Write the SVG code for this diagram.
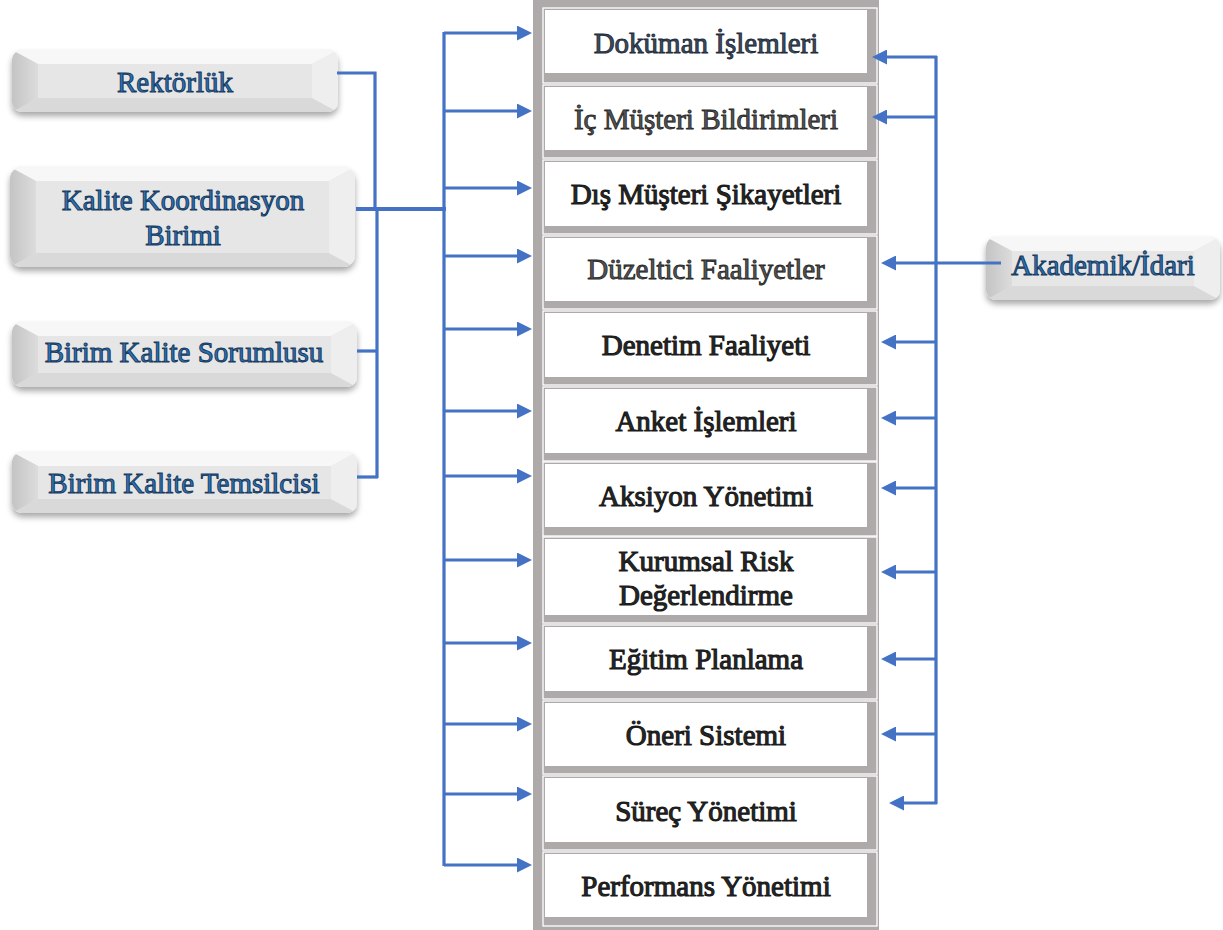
<svg xmlns="http://www.w3.org/2000/svg" width="1223" height="930" viewBox="0 0 1223 930">
<style>
.cell{font-family:"Liberation Serif","Times New Roman",serif;font-size:29px;text-anchor:middle;fill:#262626;stroke:#1a1a1a;stroke-width:1.1px}
.cell.slate{fill:#3d4b5c;stroke:#1e2b3a;stroke-width:0.9px}
.cell.gray{fill:#555555;stroke:#2a2a2a;stroke-width:0.9px}
.ntx{font-family:"Liberation Serif","Times New Roman",serif;font-size:29px;text-anchor:middle;fill:#2e74b5;stroke:#173a60;stroke-width:1px}
.box{fill:#e6e6e6}
.bl{fill:url(#gLeft)}
.br{fill:#eeeeee}
.bt{fill:#f7f7f7}
.bb{fill:#d9d9d9}
.outl{fill:none;stroke:#ffffff;stroke-width:1.3}
.inner{fill:#ffffff}
.ln{fill:none;stroke:#4472c4;stroke-width:3.2}
.arr{fill:none;stroke:#4472c4;stroke-width:3.2;marker-end:url(#ah)}
</style>
<defs>
<marker id="ah" markerUnits="userSpaceOnUse" markerWidth="15" markerHeight="15" refX="7" refY="7.5" orient="auto"><path d="M0,0 L15,7.5 L0,15 z" fill="#4472c4"/></marker>
<linearGradient id="gLeft" x1="0" y1="0" x2="1" y2="0"><stop offset="0" stop-color="#c4c4c4"/><stop offset="1" stop-color="#dcdcdc"/></linearGradient>
<filter id="sh" x="-10%" y="-20%" width="120%" height="160%"><feDropShadow dx="0" dy="4" stdDeviation="3" flood-color="#000000" flood-opacity="0.35"/></filter>
<clipPath id="cR"><rect x="12" y="50" width="326" height="62" rx="10"/></clipPath>
<clipPath id="cK"><rect x="10" y="167" width="345" height="100" rx="12"/></clipPath>
<clipPath id="cS"><rect x="12" y="322" width="345" height="65" rx="10"/></clipPath>
<clipPath id="cT"><rect x="12" y="452" width="345" height="61" rx="10"/></clipPath>
<clipPath id="cA"><rect x="986" y="237" width="234" height="63" rx="10"/></clipPath>
</defs>
<rect width="1223" height="930" fill="#ffffff"/>

<!-- central column -->
<g id="column">
<rect x="533" y="0" width="346" height="930" fill="#aeaaaa"/>
</g>
<g id="cell1"><rect class="outl" x="543" y="8" width="334" height="75"/><rect class="inner" x="545" y="10" width="322" height="63"/><text class="cell slate" x="706" y="53">Doküman İşlemleri</text></g>
<g id="cell2"><rect class="outl" x="543" y="85" width="334" height="73"/><rect class="inner" x="545" y="87" width="322" height="63"/><text class="cell gray" x="706" y="129">İç Müşteri Bildirimleri</text></g>
<g id="cell3"><rect class="outl" x="543" y="160" width="334" height="74"/><rect class="inner" x="545" y="162" width="322" height="64"/><text class="cell" x="706" y="204">Dış Müşteri Şikayetleri</text></g>
<g id="cell4"><rect class="outl" x="543" y="236" width="334" height="73"/><rect class="inner" x="545" y="238" width="322" height="63"/><text class="cell gray" x="706" y="279">Düzeltici Faaliyetler</text></g>
<g id="cell5"><rect class="outl" x="543" y="311" width="334" height="74"/><rect class="inner" x="545" y="313" width="322" height="64"/><text class="cell" x="706" y="355">Denetim Faaliyeti</text></g>
<g id="cell6"><rect class="outl" x="543" y="387" width="334" height="74"/><rect class="inner" x="545" y="389" width="322" height="64"/><text class="cell" x="706" y="431">Anket İşlemleri</text></g>
<g id="cell7"><rect class="outl" x="543" y="462" width="334" height="74"/><rect class="inner" x="545" y="464" width="322" height="63"/><text class="cell" x="706" y="506">Aksiyon Yönetimi</text></g>
<g id="cell8"><rect class="outl" x="543" y="537" width="334" height="86"/><rect class="inner" x="545" y="539" width="322" height="76"/><text class="cell" x="706" y="571">Kurumsal Risk</text><text class="cell" x="706" y="605">Değerlendirme</text></g>
<g id="cell9"><rect class="outl" x="543" y="625" width="334" height="74"/><rect class="inner" x="545" y="627" width="322" height="64"/><text class="cell" x="706" y="669">Eğitim Planlama</text></g>
<g id="cell10"><rect class="outl" x="543" y="701" width="334" height="73"/><rect class="inner" x="545" y="703" width="322" height="63"/><text class="cell" x="706" y="745">Öneri Sistemi</text></g>
<g id="cell11"><rect class="outl" x="543" y="776" width="334" height="74"/><rect class="inner" x="545" y="778" width="322" height="64"/><text class="cell" x="706" y="821">Süreç Yönetimi</text></g>
<g id="cell12"><rect class="outl" x="543" y="852" width="334" height="74"/><rect class="inner" x="545" y="854" width="322" height="63"/><text class="cell" x="706" y="896">Performans Yönetimi</text></g>

<!-- left nodes -->
<g id="rektorluk">
<rect x="12" y="50" width="326" height="62" rx="10" class="box" filter="url(#sh)"/>
<g clip-path="url(#cR)">
<polygon class="bt" points="12,50 338,50 312,64 38,64"/><polygon class="bb" points="12,112 338,112 312,98 38,98"/>
<polygon class="bl" points="12,50 38,64 38,98 12,112"/><polygon class="br" points="338,50 312,64 312,98 338,112"/>
</g>
<text class="ntx" x="175" y="92">Rektörlük</text>
</g>
<g id="kalite">
<rect x="10" y="167" width="345" height="100" rx="12" class="box" filter="url(#sh)"/>
<g clip-path="url(#cK)">
<polygon class="bt" points="10,167 355,167 329,181 36,181"/><polygon class="bb" points="10,267 355,267 329,253 36,253"/>
<polygon class="bl" points="10,167 36,181 36,253 10,267"/><polygon class="br" points="355,167 329,181 329,253 355,267"/>
</g>
<text class="ntx" x="183" y="210">Kalite Koordinasyon</text>
<text class="ntx" x="183" y="245">Birimi</text>
</g>
<g id="sorumlu">
<rect x="12" y="322" width="345" height="65" rx="10" class="box" filter="url(#sh)"/>
<g clip-path="url(#cS)">
<polygon class="bt" points="12,322 357,322 331,336 38,336"/><polygon class="bb" points="12,387 357,387 331,373 38,373"/>
<polygon class="bl" points="12,322 38,336 38,373 12,387"/><polygon class="br" points="357,322 331,336 331,373 357,387"/>
</g>
<text class="ntx" x="184" y="362">Birim Kalite Sorumlusu</text>
</g>
<g id="temsilci">
<rect x="12" y="452" width="345" height="61" rx="10" class="box" filter="url(#sh)"/>
<g clip-path="url(#cT)">
<polygon class="bt" points="12,452 357,452 331,466 38,466"/><polygon class="bb" points="12,513 357,513 331,499 38,499"/>
<polygon class="bl" points="12,452 38,466 38,499 12,513"/><polygon class="br" points="357,452 331,466 331,499 357,513"/>
</g>
<text class="ntx" x="184" y="493">Birim Kalite Temsilcisi</text>
</g>
<g id="akademik">
<rect x="986" y="237" width="234" height="63" rx="10" class="box" filter="url(#sh)"/>
<g clip-path="url(#cA)">
<polygon class="bt" points="986,237 1220,237 1194,251 1012,251"/><polygon class="bb" points="986,300 1220,300 1194,286 1012,286"/>
<polygon class="bl" points="986,237 1012,251 1012,286 986,300"/><polygon class="br" points="1220,237 1194,251 1194,286 1220,300"/>
</g>
<text class="ntx" x="1103" y="275">Akademik/İdari</text>
</g>

<!-- connectors -->
<g id="connectors">
<path class="ln" d="M337,73 H375 V209"/>
<path class="ln" d="M356,209 H446" style="stroke-width:4"/>
<path class="ln" d="M377,209 V478"/>
<path class="ln" d="M357,351 H377"/>
<path class="ln" d="M357,477 H378"/>
<path class="ln" d="M444,32 V866"/>
<path class="arr" d="M444,33 H524"/>
<path class="arr" d="M444,111 H524"/>
<path class="arr" d="M444,188 H524"/>
<path class="arr" d="M444,256 H524"/>
<path class="arr" d="M444,329 H524"/>
<path class="arr" d="M444,411 H524"/>
<path class="arr" d="M444,476 H524"/>
<path class="arr" d="M444,560 H524"/>
<path class="arr" d="M444,643 H524"/>
<path class="arr" d="M444,724 H524"/>
<path class="arr" d="M444,794 H524"/>
<path class="arr" d="M444,865 H524"/>
<path class="ln" d="M936,56 V804"/>
<path class="arr" d="M937,57 H880"/>
<path class="arr" d="M937,117 H880"/>
<path class="arr" d="M1001,263 H889"/>
<path class="arr" d="M937,342 H889"/>
<path class="arr" d="M937,418 H889"/>
<path class="arr" d="M937,488 H889"/>
<path class="arr" d="M937,572 H889"/>
<path class="arr" d="M937,659 H889"/>
<path class="arr" d="M937,734 H889"/>
<path class="arr" d="M937,803 H897"/>
</g>
</svg>
